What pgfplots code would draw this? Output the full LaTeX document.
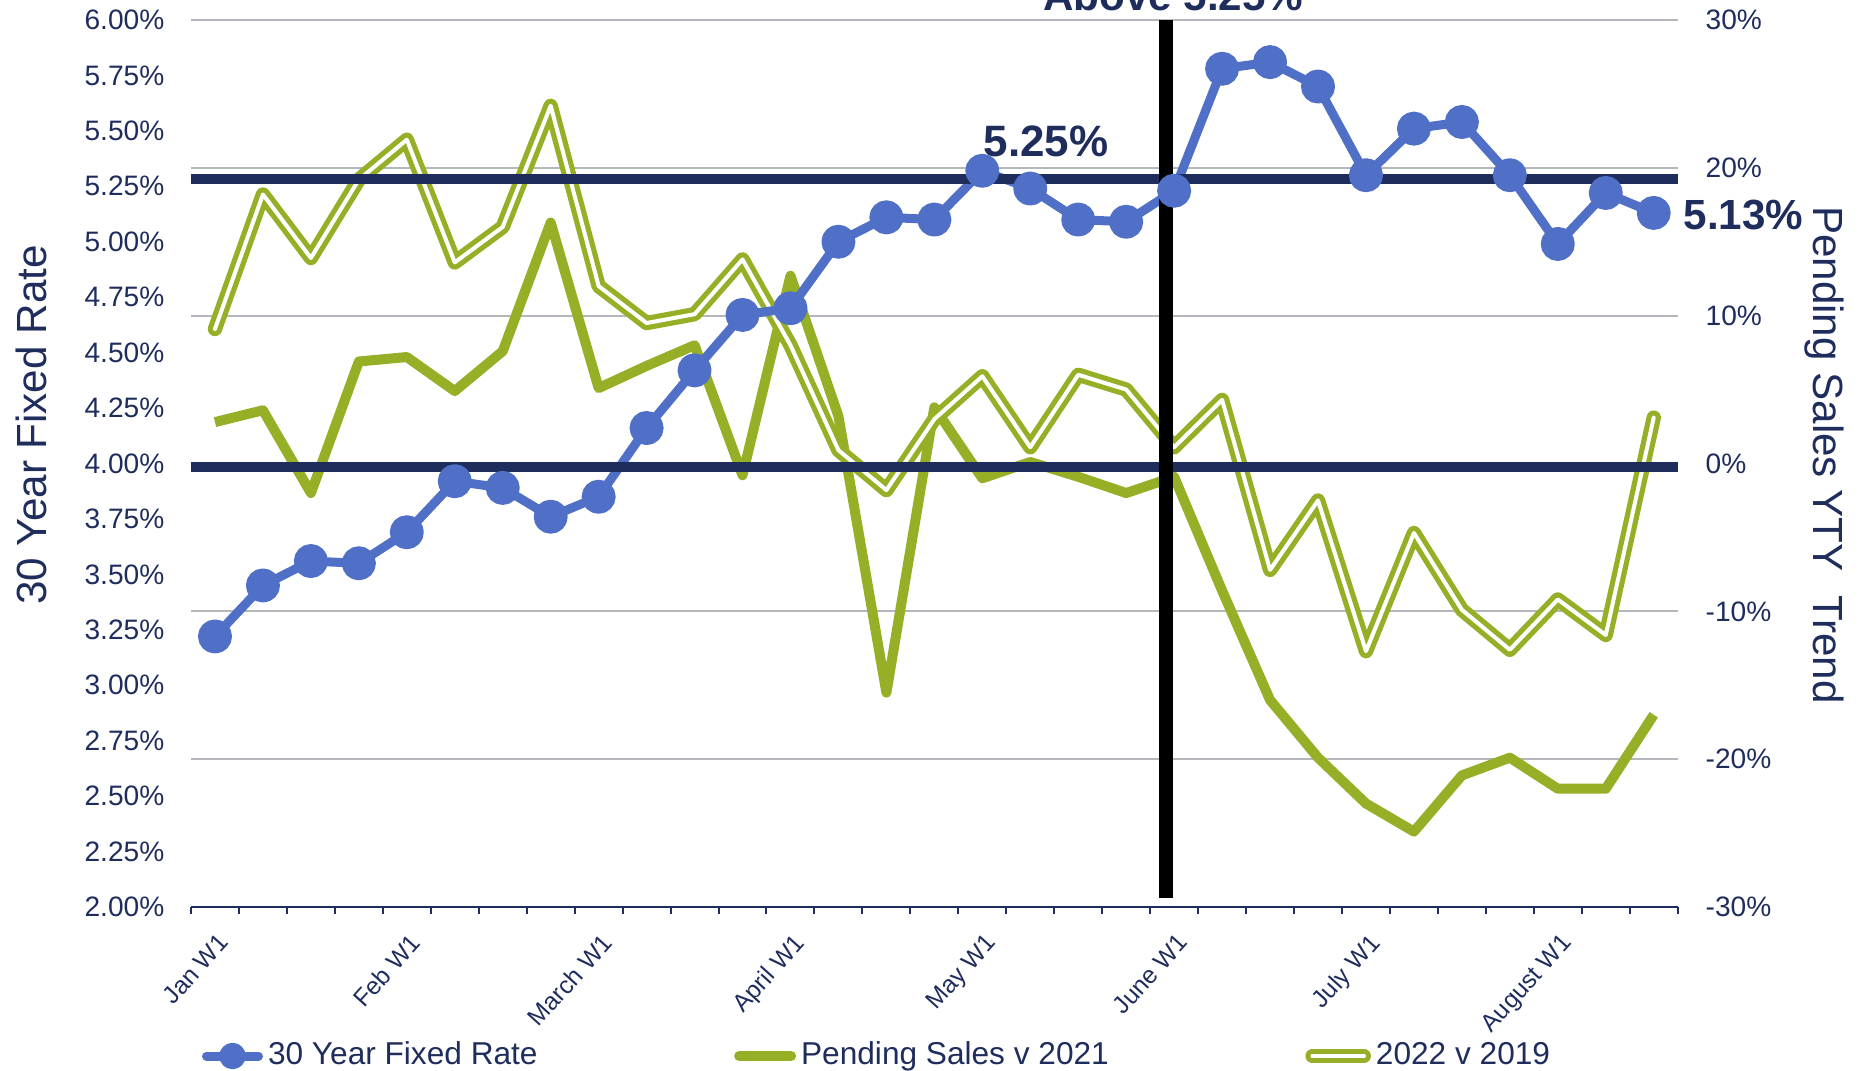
\documentclass[border=0pt]{standalone}
\usepackage{fontspec}
\setmainfont{Liberation Sans}
\usepackage{pgfplots}
\pgfplotsset{compat=1.18}
\definecolor{bluec}{RGB}{80,112,199}
\definecolor{greenc}{RGB}{149,176,38}
\definecolor{navy}{RGB}{31,45,93}
\definecolor{gridc}{RGB}{180,183,188}
\begin{document}
\begin{tikzpicture}
% ---------- right axis: Pending Sales YTY Trend ----------
\begin{axis}[
  at={(19.1mm,16.4mm)}, anchor=south west,
  scale only axis, width=148.67mm, height=88.7mm,
  xmin=-0.5, xmax=30.5, ymin=-30, ymax=30,
  axis x line=none,
  axis y line*=right,
  y axis line style={draw=none},
  ytick={-30,-20,-10,0,10,20,30},
  yticklabels={-30\%,-20\%,-10\%,0\%,10\%,20\%,30\%},
  major tick length=0pt,
  ytick style={draw=none},
  yticklabel style={font=\fontsize{8}{9.6}\selectfont, text=navy, anchor=west, inner sep=0pt, xshift=2.73mm},
  ymajorgrids, grid style={gridc, line width=0.2mm},
  ylabel={Pending Sales YTY\ \ Trend},
  every axis y label/.style={at={(axis description cs:1.0984,0.5096)}, rotate=-90, anchor=center, font=\fontsize{12}{14}\selectfont, text=navy},
]
\addplot[greenc, line width=1.0mm, line join=round, forget plot] coordinates {
(0,2.8) (1,3.6) (2,-2.0) (3,6.9) (4,7.2) (5,4.9) (6,7.6) (7,16.3) (8,5.1) (9,6.6)
(10,8.0) (11,-0.8) (12,12.7) (13,3.2) (14,-15.5) (15,3.8) (16,-1.0) (17,0.1) (18,-0.9) (19,-2.0)
(20,-0.9) (21,-8.6) (22,-16.0) (23,-19.9) (24,-23.0) (25,-24.9) (26,-21.1) (27,-19.9) (28,-22.0) (29,-22.0)
(30,-17.0)};
\addplot[greenc, line width=0.52mm, double=white, double distance=0.4mm, line join=round, line cap=round, forget plot] coordinates {
(0,9.1) (1,18.2) (2,13.9) (3,19.2) (4,21.9) (5,13.6) (6,16.0) (7,24.2) (8,12.0) (9,9.5)
(10,10.1) (11,13.8) (12,8.0) (13,0.9) (14,-1.8) (15,3.0) (16,5.9) (17,1.1) (18,6.0) (19,5.0)
(20,1.1) (21,4.3) (22,-7.2) (23,-2.5) (24,-12.7) (25,-4.7) (26,-9.9) (27,-12.6) (28,-9.2) (29,-11.6)
(30,3.1)};
\end{axis}
% ---------- left axis: 30 Year Fixed Rate ----------
\begin{axis}[
  at={(19.1mm,16.4mm)}, anchor=south west,
  scale only axis, width=148.67mm, height=88.7mm,
  xmin=-0.5, xmax=30.5, ymin=2, ymax=6,
  clip=false,
  axis x line*=bottom,
  axis y line*=left,
  x axis line style={-, navy, line width=0.2mm},
  y axis line style={draw=none},
  xtick={0,4,8,12,16,20,24,28},
  xticklabels={Jan W1,Feb W1,March W1,April W1,May W1,June W1,July W1,August W1},
  minor xtick={-0.5,0.5,...,30.5},
  major tick length=0pt,
  minor tick length=0.7mm,
  xtick align=outside,
  minor x tick style={navy, line width=0.2mm},
  major x tick style={draw=none},
  xticklabel style={font=\fontsize{7}{8}\selectfont, text=navy, inner sep=0pt, xshift=0.2mm, yshift=-2.45mm, rotate=48, anchor=north east},
  ytick={2,2.25,2.5,2.75,3,3.25,3.5,3.75,4,4.25,4.5,4.75,5,5.25,5.5,5.75,6},
  yticklabels={2.00\%,2.25\%,2.50\%,2.75\%,3.00\%,3.25\%,3.50\%,3.75\%,4.00\%,4.25\%,4.50\%,4.75\%,5.00\%,5.25\%,5.50\%,5.75\%,6.00\%},
  ytick style={draw=none},
  yticklabel style={font=\fontsize{8}{9.6}\selectfont, text=navy, anchor=east, inner sep=0pt, xshift=-2.6mm},
  ylabel={30 Year Fixed Rate},
  every axis y label/.style={at={(axis description cs:-0.1076,0.5434)}, rotate=90, anchor=center, font=\fontsize{12}{14}\selectfont, text=navy},
  legend style={at={(axis description cs:0.0074,-0.168)}, anchor=west, draw=none, fill=none, inner sep=0pt, outer sep=0pt,
    legend columns=3, font=\fontsize{9}{10.5}\selectfont,
    nodes={inner sep=0.3mm, text=navy},
    /tikz/every odd column/.append style={column sep=0.2mm},
    /tikz/every even column/.append style={column sep=19.35mm}},
  legend cell align=left,
]
\addlegendimage{legend image code/.code={\draw[bluec, line width=0.9mm, line cap=round] (0mm,0mm) -- (5.2mm,0mm); \fill[bluec] (2.6mm,0mm) circle[radius=1.25mm];}}
\addlegendentry{30 Year Fixed Rate}
\addlegendimage{legend image code/.code={\draw[greenc, line width=1.0mm, line cap=round] (0mm,0mm) -- (5.2mm,0mm);}}
\addlegendentry{Pending Sales v 2021}
\addlegendimage{legend image code/.code={\draw[greenc, line width=0.5mm, double=white, double distance=0.36mm, line cap=round] (0mm,0mm) -- (5.2mm,0mm);}}
\addlegendentry{2022 v 2019}
\addplot[bluec, line width=0.9mm, line join=round, mark=*, mark size=1.25mm, mark options={draw=none, fill=bluec}, forget plot] coordinates {
(0,3.22) (1,3.45) (2,3.56) (3,3.55) (4,3.69) (5,3.92) (6,3.89) (7,3.76) (8,3.85) (9,4.16)
(10,4.42) (11,4.67) (12,4.70) (13,5.00) (14,5.11) (15,5.10) (16,5.32) (17,5.24) (18,5.10) (19,5.09)
(20,5.23) (21,5.78) (22,5.81) (23,5.70) (24,5.30) (25,5.51) (26,5.54) (27,5.30) (28,4.99) (29,5.22)
(30,5.13)};
\addplot[navy, line width=1mm, forget plot] coordinates {(-0.5,5.283) (30.5,5.283)};
\addplot[navy, line width=1mm, forget plot] coordinates {(-0.5,3.986) (30.5,3.986)};
\addplot[black, line width=1.4mm, forget plot] coordinates {(19.83,2.04) (19.83,6)};
\node[font=\bfseries\fontsize{12.5}{15}\selectfont, text=navy, anchor=center, inner sep=0pt] at (axis cs:17.33,5.454) {5.25\%};
\node[font=\bfseries\fontsize{12}{14}\selectfont, text=navy, anchor=west, inner sep=0pt] at (axis cs:30.61,5.121) {5.13\%};
\node[font=\bfseries\fontsize{12}{14}\selectfont, text=navy, anchor=base, inner sep=0pt] at (axis cs:19.98,6.045) {Above 5.25\%};
\end{axis}
\pgfresetboundingbox
\useasboundingbox (0,0) rectangle (186.4mm,107.1mm);
\end{tikzpicture}
\end{document}
